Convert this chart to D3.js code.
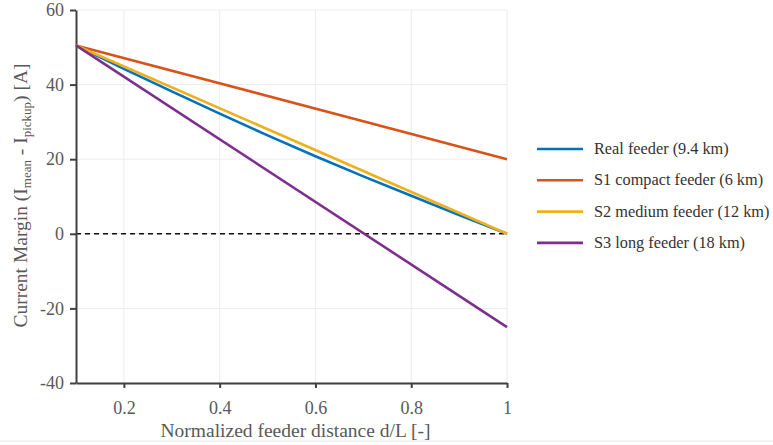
<!DOCTYPE html>
<html>
<head>
<meta charset="utf-8">
<script src="https://cdn.jsdelivr.net/npm/d3@7"></script>
<style>
  body { margin: 0; background: #fff; }
</style>
</head>
<body>
<div id="chart"></div>
<script>
// data
const seriesNames = ["Real feeder (9.4 km)", "S1 compact feeder (6 km)", "S2 medium feeder (12 km)", "S3 long feeder (18 km)"];
const seriesColors = ["#0072BD", "#D95319", "#EDB120", "#7E2F8E"];
const realX = [0.1, 0.2, 0.3, 0.4, 0.5, 0.6, 0.7, 0.8, 0.9, 1.0];
const realY = [50.5, 44.2, 38.2, 32.2, 26.4, 20.8, 15.4, 10.2, 5.0, 0];
const s1X = [0.1, 1.0];
const s1Y = [50.5, 20];
const s2X = [0.1, 1.0];
const s2Y = [50.5, 0];
const s3X = [0.1, 1.0];
const s3Y = [50.5, -25];
const xTicks = [0.2, 0.4, 0.6, 0.8, 1];
const yTicks = [-40, -20, 0, 20, 40, 60];

const FONT = 'Liberation Serif';

const width = 773, height = 445;
const margin = {top: 10, left: 76, right: 266, bottom: 62};
const w = width - margin.left - margin.right;
const h = height - margin.top - margin.bottom;

const svg = d3.select('#chart').append('svg')
    .attr('width', width)
    .attr('height', height)
    .style('font-family', FONT);

const x = d3.scaleLinear().domain([0.1, 1]).range([0, w]);
const y = d3.scaleLinear().domain([-40, 60]).range([h, 0]);

const g = svg.append('g')
    .attr('transform', `translate(${margin.left},${margin.top})`);

// grid
g.append('g').selectAll('line')
  .data(xTicks)
  .join('line')
    .attr('x1', d => x(d)).attr('x2', d => x(d))
    .attr('y1', 0).attr('y2', h)
    .attr('stroke', '#ececec').attr('stroke-width', 1);
g.append('g').selectAll('line')
  .data(yTicks)
  .join('line')
    .attr('x1', 0).attr('x2', w)
    .attr('y1', d => y(d)).attr('y2', d => y(d))
    .attr('stroke', '#ececec').attr('stroke-width', 1);

// zero reference
g.append('line')
    .attr('x1', 0).attr('x2', w)
    .attr('y1', y(0)).attr('y2', y(0))
    .attr('stroke', '#111').attr('stroke-width', 1.5)
    .attr('stroke-dasharray', '5,4');

// axes
const xAxis = g.append('g')
    .attr('transform', `translate(0,${h})`)
    .call(d3.axisBottom(x).tickValues(xTicks).tickSize(5).tickSizeOuter(0).tickPadding(13)
      .tickFormat(d => d === 1 ? '1' : d3.format('.1f')(d)));
const yAxis = g.append('g')
    .call(d3.axisLeft(y).tickValues(yTicks).tickSize(6).tickSizeOuter(0).tickPadding(6)
      .tickFormat(d => String(d)));

[xAxis, yAxis].forEach(a => {
  a.attr('font-family', FONT);
  a.select('.domain').attr('stroke', '#404040').attr('stroke-width', 2);
  a.selectAll('.tick line').attr('stroke', '#404040').attr('stroke-width', 2);
  a.selectAll('.tick text')
    .attr('fill', '#595959')
    .style('font-family', FONT)
    .style('font-size', '18px');
});

// lines
const seriesData = [
  realX.map((v, i) => [v, realY[i]]),
  s1X.map((v, i) => [v, s1Y[i]]),
  s2X.map((v, i) => [v, s2Y[i]]),
  s3X.map((v, i) => [v, s3Y[i]])
];
const line = d3.line().x(d => x(d[0])).y(d => y(d[1]));
g.selectAll('.series')
  .data(seriesData)
  .join('path')
    .attr('class', 'series')
    .attr('d', line)
    .attr('fill', 'none')
    .attr('stroke', (d, i) => seriesColors[i])
    .attr('stroke-width', 2.6);

// axis titles
svg.append('text')
    .attr('x', margin.left + w / 2 + 4)
    .attr('y', 437)
    .attr('text-anchor', 'middle')
    .attr('fill', '#595959')
    .style('font-family', FONT)
    .style('font-size', '19.5px')
    .text('Normalized feeder distance d/L [-]');

const yt = svg.append('text')
    .attr('transform', `translate(27,${margin.top + h / 2 - 1}) rotate(-90)`)
    .attr('text-anchor', 'middle')
    .attr('fill', '#595959')
    .style('font-family', FONT)
    .style('font-size', '19.5px');
yt.append('tspan').text('Current Margin (I');
yt.append('tspan').attr('dy', 4).style('font-size', '13px').text('mean');
yt.append('tspan').attr('dy', -4).text(' - I');
yt.append('tspan').attr('dy', 4).style('font-size', '13px').text('pickup');
yt.append('tspan').attr('dy', -4).text(') [A]');

// legend
const legend = svg.append('g').attr('transform', 'translate(537,149)');
seriesNames.forEach((name, i) => {
  const row = legend.append('g').attr('transform', `translate(0,${i * 31.3})`);
  row.append('line')
      .attr('x1', 0).attr('x2', 46)
      .attr('stroke', seriesColors[i]).attr('stroke-width', 2.6);
  row.append('text')
      .attr('x', 57).attr('y', 5)
      .attr('fill', '#333')
      .style('font-family', FONT)
      .style('font-size', '16.3px')
      .text(name);
});

// page edge line at bottom
svg.append('line')
    .attr('x1', 0).attr('x2', width)
    .attr('y1', 441).attr('y2', 441)
    .attr('stroke', '#e6e6e6').attr('stroke-width', 1);
</script>
</body>
</html>
